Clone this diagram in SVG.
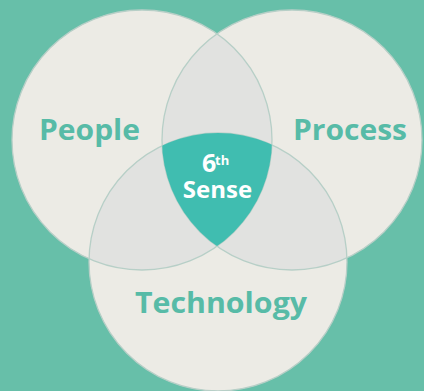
<svg xmlns="http://www.w3.org/2000/svg" width="424" height="391" viewBox="0 0 424 391">
  <style>
    .disc { fill: #ecebe5; }
    .overlap { fill: #e1e2e0; }
    .edge { fill: none; stroke: #b7cfc7; stroke-width: 1.3; }
    .label { font-family: "Open Sans", "Liberation Sans", sans-serif; font-weight: 700; fill: #57bba7; }
    .core-label { font-family: "Open Sans", "Liberation Sans", sans-serif; font-weight: 700; fill: #ffffff; }
  </style>
  <defs>
    <circle id="c-people" cx="142" cy="140" r="130"/>
    <circle id="c-process" cx="292" cy="140" r="130"/>
    <circle id="c-tech" cx="218" cy="262" r="129"/>
    <clipPath id="clip-people"><use href="#c-people"/></clipPath>
    <clipPath id="clip-process"><use href="#c-process"/></clipPath>
    <clipPath id="clip-tech"><use href="#c-tech"/></clipPath>
  </defs>

  <rect width="424" height="391" fill="#67bfa9"/>

  <!-- base discs -->
  <g id="people">
    <use href="#c-people" class="disc"/>
  </g>
  <g id="process">
    <use href="#c-process" class="disc"/>
  </g>
  <g id="technology">
    <use href="#c-tech" class="disc"/>
  </g>

  <!-- pairwise overlaps -->
  <g id="overlaps">
    <g clip-path="url(#clip-people)"><use href="#c-process" class="overlap"/></g>
    <g clip-path="url(#clip-people)"><use href="#c-tech" class="overlap"/></g>
    <g clip-path="url(#clip-process)"><use href="#c-tech" class="overlap"/></g>
  </g>

  <!-- outlines -->
  <g id="outlines">
    <use href="#c-people" class="edge"/>
    <use href="#c-process" class="edge"/>
    <use href="#c-tech" class="edge"/>
  </g>

  <!-- triple intersection -->
  <g id="sixth-sense">
    <g clip-path="url(#clip-people)">
      <g clip-path="url(#clip-process)">
        <use href="#c-tech" fill="#40bdb0"/>
      </g>
    </g>
    <text class="core-label" font-size="25"><tspan x="202" y="172">6</tspan><tspan x="215" y="165" font-size="13">th</tspan><tspan x="217.5" y="198" font-size="24" text-anchor="middle">Sense</tspan></text>
  </g>

  <!-- circle labels -->
  <g id="labels">
    <text class="label" x="39" y="140" font-size="29" textLength="101" lengthAdjust="spacingAndGlyphs">People</text>
    <text class="label" x="293" y="140" font-size="29" textLength="114" lengthAdjust="spacingAndGlyphs">Process</text>
    <text class="label" x="135" y="313" font-size="29" textLength="172" lengthAdjust="spacingAndGlyphs">Technology</text>
  </g>
</svg>
